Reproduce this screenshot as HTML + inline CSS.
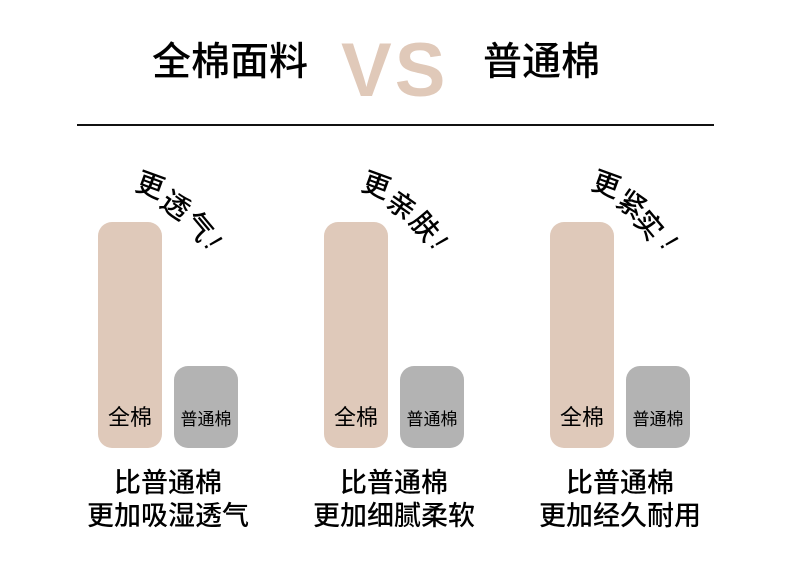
<!DOCTYPE html>
<html><head><meta charset="utf-8"><style>
body{margin:0;width:790px;height:585px;background:#fff;position:relative;overflow:hidden;font-family:"Liberation Sans","Noto Sans CJK SC",sans-serif;}
.a{position:absolute;white-space:nowrap;}
.t{font-size:39px;font-weight:500;color:#000;line-height:1;}
.vs{font-size:76px;font-weight:bold;color:#e0c9b9;line-height:1;font-family:"Liberation Sans",sans-serif;letter-spacing:3px;}
.bar{position:absolute;border-radius:14px;}
.tan{background:#dfc9ba;}
.gray{background:#b3b3b3;}
.c{position:absolute;font-size:28px;font-weight:500;line-height:1;transform-origin:center;width:28px;text-align:center;}
.lb{position:absolute;text-align:center;color:#000;line-height:1;}
</style></head><body>
<div class="a t" style="left:152px;top:43px;">全棉面料</div>
<div class="a vs" style="left:341px;top:33px;">VS</div>
<div class="a t" style="left:483px;top:43px;">普通棉</div>
<div class="a" style="left:77px;top:124px;width:637px;height:2px;background:#111;"></div>

<!-- panel 1 -->
<div class="bar tan" style="left:98px;top:222px;width:64px;height:226px;"></div>
<div class="bar gray" style="left:174px;top:366px;width:64px;height:82px;"></div>
<div class="lb" style="left:98px;width:64px;top:407px;font-size:22px;">全棉</div>
<div class="lb" style="left:172px;width:68px;top:411px;font-size:17px;">普通棉</div>
<div class="lb" style="left:68px;width:200px;top:470px;font-size:27px;font-weight:500;">比普通棉</div>
<div class="lb" style="left:68px;width:200px;top:503px;font-size:27px;font-weight:500;">更加吸湿透气</div>
<div class="c" style="left:136px;top:172px;transform:rotate(20deg)">更</div>
<div class="c" style="left:161px;top:192px;transform:rotate(35deg)">透</div>
<div class="c" style="left:184px;top:213px;transform:rotate(50deg)">气</div>
<div class="c" style="left:199px;top:229px;transform:rotate(60deg)">!</div>

<!-- panel 2 -->
<div class="bar tan" style="left:324px;top:222px;width:64px;height:226px;"></div>
<div class="bar gray" style="left:400px;top:366px;width:64px;height:82px;"></div>
<div class="lb" style="left:324px;width:64px;top:407px;font-size:22px;">全棉</div>
<div class="lb" style="left:398px;width:68px;top:411px;font-size:17px;">普通棉</div>
<div class="lb" style="left:294px;width:200px;top:470px;font-size:27px;font-weight:500;">比普通棉</div>
<div class="lb" style="left:294px;width:200px;top:503px;font-size:27px;font-weight:500;">更加细腻柔软</div>
<div class="c" style="left:362px;top:172px;transform:rotate(20deg)">更</div>
<div class="c" style="left:387px;top:192px;transform:rotate(35deg)">亲</div>
<div class="c" style="left:410px;top:213px;transform:rotate(50deg)">肤</div>
<div class="c" style="left:425px;top:229px;transform:rotate(60deg)">!</div>

<!-- panel 3 -->
<div class="bar tan" style="left:550px;top:222px;width:64px;height:226px;"></div>
<div class="bar gray" style="left:626px;top:366px;width:64px;height:82px;"></div>
<div class="lb" style="left:550px;width:64px;top:407px;font-size:22px;">全棉</div>
<div class="lb" style="left:624px;width:68px;top:411px;font-size:17px;">普通棉</div>
<div class="lb" style="left:520px;width:200px;top:470px;font-size:27px;font-weight:500;">比普通棉</div>
<div class="lb" style="left:520px;width:200px;top:503px;font-size:27px;font-weight:500;">更加经久耐用</div>
<div class="c" style="left:592px;top:171px;transform:rotate(20deg)">更</div>
<div class="c" style="left:617px;top:191px;transform:rotate(35deg)">紧</div>
<div class="c" style="left:634px;top:212px;transform:rotate(50deg)">实</div>
<div class="c" style="left:655px;top:229px;transform:rotate(60deg)">!</div>
</body></html>
